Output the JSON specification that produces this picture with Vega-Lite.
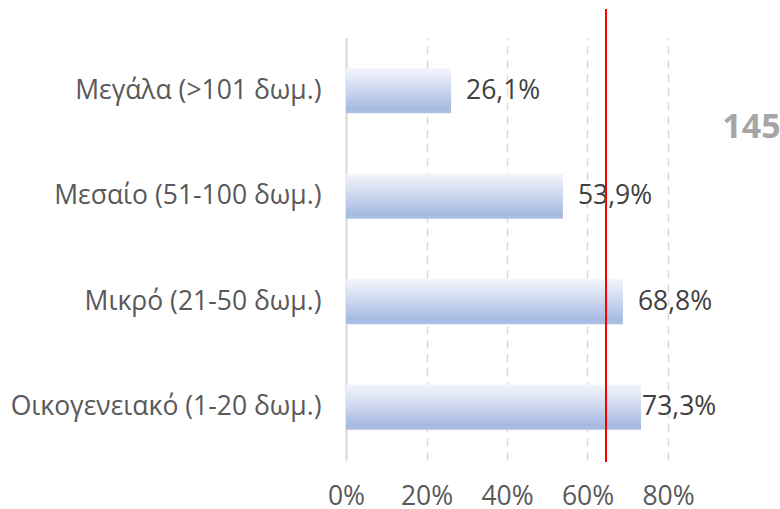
{
  "$schema": "https://vega.github.io/schema/vega-lite/v6.json",
  "width": 322,
  "height": 422,
  "autosize": "none",
  "padding": {"left": 346, "top": 38, "right": 112, "bottom": 49},
  "background": "white",
  "config": {
    "view": {"stroke": null},
    "font": "Open Sans",
    "locale": {"number": {"decimal": ",", "thousands": ".", "grouping": [3], "currency": ["", " €"]}}
  },
  "layer": [
    {
      "data": {"values": [
        {"category": "Μεγάλα (>101 δωμ.)", "value": 0.261},
        {"category": "Μεσαίο (51-100 δωμ.)", "value": 0.539},
        {"category": "Μικρό (21-50 δωμ.)", "value": 0.688},
        {"category": "Οικογενειακό (1-20 δωμ.)", "value": 0.733}
      ]},
      "encoding": {
        "y": {
          "field": "category", "type": "nominal",
          "scale": {"domain": ["Μεγάλα (>101 δωμ.)", "Μεσαίο (51-100 δωμ.)", "Μικρό (21-50 δωμ.)", "Οικογενειακό (1-20 δωμ.)"], "paddingInner": 0.573, "paddingOuter": 0.2865},
          "axis": {"title": null, "domain": true, "domainColor": "#d9d9d9", "domainWidth": 2, "ticks": false, "labelFontSize": 26.5, "labelColor": "#595959", "labelPadding": 25, "labelLimit": 400}
        },
        "x": {
          "field": "value", "type": "quantitative",
          "scale": {"domain": [0, 0.8], "nice": false},
          "axis": {"title": null, "values": [0, 0.2, 0.4, 0.6, 0.8], "format": ".0%", "domain": false, "ticks": false, "grid": true, "gridDash": [8, 6], "gridColor": "#d9d9d9", "gridWidth": 1.5, "labelFontSize": 26.5, "labelColor": "#595959", "labelPadding": 23, "labelFlush": false, "labelOverlap": false, "labelBound": false}
        }
      },
      "layer": [
        {
          "mark": {
            "type": "bar",
            "color": {
              "gradient": "linear", "x1": 0, "y1": 0, "x2": 0, "y2": 1,
              "stops": [
                {"offset": 0, "color": "#f3f5fb"},
                {"offset": 0.5, "color": "#cbd6ee"},
                {"offset": 0.9, "color": "#a6bae2"},
                {"offset": 1, "color": "#adbfe4"}
              ]
            }
          }
        },
        {
          "transform": [{"filter": "datum.value < 0.7"}],
          "mark": {"type": "text", "align": "left", "baseline": "middle", "dx": 15, "fontSize": 26.5, "color": "#404040"},
          "encoding": {"text": {"field": "value", "type": "quantitative", "format": ".1%"}}
        },
        {
          "transform": [{"filter": "datum.value >= 0.7"}],
          "mark": {"type": "text", "align": "left", "baseline": "middle", "dx": 1, "fontSize": 26.5, "color": "#404040"},
          "encoding": {"text": {"field": "value", "type": "quantitative", "format": ".1%"}}
        }
      ]
    },
    {
      "layer": [
        {
          "data": {"values": [{"threshold": 0.646}]},
          "mark": {"type": "rule", "color": "#ff0000", "strokeWidth": 2},
          "encoding": {
            "x": {"field": "threshold", "type": "quantitative"},
            "y": {"datum": -0.005, "type": "quantitative", "scale": {"domain": [0, 1], "nice": false}, "axis": null},
            "y2": {"datum": 1.069}
          }
        },
        {
          "data": {"values": [{"note": "145"}]},
          "mark": {"type": "text", "align": "left", "baseline": "middle", "fontSize": 34, "fontWeight": "bold", "color": "#a6a6a6"},
          "encoding": {
            "x": {"datum": 0.935, "type": "quantitative"},
            "y": {"datum": 0.786, "type": "quantitative", "scale": {"domain": [0, 1], "nice": false}, "axis": null},
            "text": {"field": "note", "type": "nominal"}
          }
        }
      ]
    }
  ],
  "resolve": {"scale": {"y": "independent"}}
}
